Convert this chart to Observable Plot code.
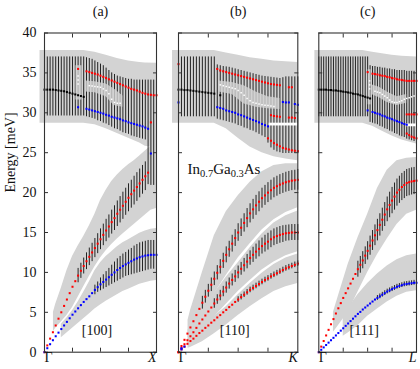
<!DOCTYPE html>
<html><head><meta charset="utf-8">
<script src="https://cdn.jsdelivr.net/npm/d3@7"></script>
<script src="https://cdn.jsdelivr.net/npm/@observablehq/plot@0.6"></script>
<style>
body{margin:0;background:#fff;}
#wrap{position:relative;width:420px;height:369px;overflow:hidden;}
#wrap svg{position:absolute;top:0;overflow:visible;}
</style></head><body><div id="wrap"></div>
<script>
// ---------- shared ----------
const yTicks = [0, 5, 10, 15, 20, 25, 30, 35, 40];
const xInnerTicks = [0.25, 0.5, 0.75];
const titles = ["(a)", "(b)", "(c)"];
const dirLabels = ["[100]", "[110]", "[111]"];
const endLabels = ["X", "K", "L"];
const startLabel = "Γ";
const yLabel = "Energy [meV]";
const chemLabel = "In0.7Ga0.3As";
const chemParts = [["In", 0], ["0.7", 1], ["Ga", 0], ["0.3", 1], ["As", 0]];
const Q = d3.range(41).map(i => i / 40); // sampling grid along the path (step 0.025)

// ---------- panel (a) [100] ----------
const aBandQ = [-0.04, 0.35, 0.45, 0.55, 0.65, 0.75, 0.85, 0.9, 1.0];
const aBandTop = [37.8, 37.8, 37.6, 37.2, 36.8, 36.5, 36.3, 36.25, 36.2];
const aBandBot = [28.7, 28.7, 28.5, 28.0, 27.4, 26.8, 26.2, 25.8, 25.6];
const aOptTop = [37.0,37.0,37.0,37.0,37.0,37.0,37.0,37.0,37.0,37.0,37.0,37.0,37.0,37.0,37.0,
  36.9,36.8,36.7,36.5,36.3,36.1,35.9,35.6,35.3,35.0,34.8,34.6,34.5,34.4,34.3,34.2,
  34.2,34.1,34.1,34.1,34.1,34.1,34.1,34.1,34.1,34.1];
const aOptBot = [29.6,29.6,29.6,29.6,29.6,29.6,29.6,29.6,29.6,29.6,29.6,29.6,29.6,29.6,29.6,
  29.5,29.4,29.3,29.2,29.0,28.9,28.7,28.6,28.4,28.2,28.0,27.9,27.7,27.5,27.4,27.3,
  27.1,27.0,26.9,26.8,26.7,26.6,21.0,20.9,20.9,20.9];
const aGapQ = [0.37, 0.45, 0.55, 0.62, 0.7];
const aGapTop = [34.0, 33.9, 33.6, 33.0, 32.1];
const aGapBot = [32.6, 32.5, 32.0, 30.9, 30.7];
const aVGapQ = [0.28, 0.335];
const aVGapTop = [35.9, 35.9];
const aVGapBot = [31.6, 31.6];
const aWhiteQ = [0.3, 0.3, 0.3, 0.4, 0.425, 0.45, 0.475, 0.5, 0.525, 0.55, 0.575, 0.6, 0.625, 0.65, 0.675];
const aWhiteE = [34.6, 34.1, 33.6, 33.4, 33.35, 33.3, 33.25, 33.2, 33.0, 32.8, 32.4, 31.7, 31.3, 31.2, 31.2];
const aLAQ = [0.08, 0.1, 0.15, 0.2, 0.25, 0.3, 0.35, 0.4, 0.45, 0.5, 0.55, 0.6, 0.65, 0.7, 0.75, 0.8, 0.85, 0.9, 0.95, 1.0];
const aLATop = [5.0, 6.0, 8.0, 10.2, 12.0, 13.3, 14.5, 15.8, 17.3, 19.0, 20.3, 21.4, 22.2, 22.9, 23.5, 24.0, 24.6, 25.2, 25.8, 26.1];
const aLABot = [2.6, 3.0, 3.8, 4.6, 5.6, 6.9, 8.2, 9.5, 10.7, 11.8, 12.7, 13.5, 14.2, 14.8, 15.4, 16.0, 16.6, 17.2, 17.8, 18.0];
const aTAQ = [0.15, 0.2, 0.25, 0.3, 0.35, 0.4, 0.45, 0.5, 0.55, 0.6, 0.65, 0.7, 0.75, 0.8, 0.85, 0.9, 0.95, 1.0];
const aTATop = [3.5, 4.3, 5.2, 6.3, 7.5, 8.8, 10.2, 11.2, 12.0, 12.6, 13.2, 13.7, 14.1, 14.5, 14.9, 15.2, 15.4, 15.5];
const aTABot = [1.8, 2.4, 3.0, 3.6, 4.2, 4.8, 5.4, 5.9, 6.4, 6.8, 7.2, 7.6, 7.9, 8.2, 8.5, 8.7, 8.9, 9.0];
const aLARed = [0,0.85,1.7,2.5,3.35,4.2,5.0,5.8,6.6,7.4,8.2,8.9,9.6,10.2,10.8,11.4,11.95,12.5,13.05,13.6,
  14.15,14.7,15.25,15.75,16.3,16.8,17.35,17.85,18.35,18.85,19.35,19.8,20.25,20.7,21.15,21.6,22.05,22.5];
const aTABlue = [0,0.5,1.0,1.5,2.0,2.45,2.9,3.35,3.8,4.25,4.7,5.1,5.5,5.9,6.3,6.65,7.0,7.4,7.8,8.15,
  8.5,8.8,9.1,9.4,9.7,10.0,10.3,10.55,10.8,11.0,11.2,11.4,11.6,11.75,11.9,12.0,12.1,12.15,12.2,12.2,12.2];
const aLABarLo = [8.7,9.25,9.8,10.35,10.85,11.35,11.85,12.35,12.85,13.35,13.85,14.3,14.8,15.25,15.75,16.2,16.65,17.15,17.6,18.05,18.45,18.9,19.35,19.8,20.25];
const aLABarHi = [10.5,11.15,11.8,12.45,13.05,13.65,14.25,14.85,15.45,16.05,16.65,17.2,17.8,18.35,18.95,19.5,20.05,20.55,21.1,21.55,22.05,22.5,22.95,23.4,23.85];
const aTABarLo = [7.2,7.5,7.7,7.9,8.1,8.3,8.5,8.7,8.9,9.1,9.3,9.5,9.6,9.7,9.8,9.9,10.0,10.1,10.2,10.3,10.4,10.4,10.4];
const aTABarHi = [8.4,8.8,9.3,9.7,10.1,10.5,10.9,11.3,11.7,12.0,12.3,12.5,12.8,13.0,13.3,13.5,13.7,13.8,13.9,14.0,14.0,14.0,14.0];
const aBlackOpt = [32.9,32.9,32.9,32.9,32.85,32.8,32.75,32.7,32.6,32.5,32.4,32.3,32.2,32.1,32.0];
const aRedOpt = [35.2,35.1,35.0,34.9,34.8,34.65,34.5,34.35,34.2,34.05,33.9,33.75,33.6,33.45,33.3,33.15,33.0,32.9,32.8,32.65,32.5,32.4,32.3,32.25,32.2,32.2];
const aBlueOpt = [30.5,30.4,30.3,30.2,30.1,30.0,29.9,29.75,29.65,29.5,29.4,29.3,29.2,29.05,28.95,28.8,28.7,28.6,28.5,28.4,28.3,28.15,28.0];
const aRedXQ = [0.3, 0.95];
const aRedXE = [35.5, 28.8];
const aBlueXQ = [0.3, 0.95];
const aBlueXE = [30.7, 24.9];

// ---------- panel (b) [110] ----------
const bBandQ = [-0.05, 0.3, 0.4, 0.5, 0.6, 0.7, 0.8, 0.9, 1.0];
const bBandTop = [37.8, 37.8, 37.5, 37.2, 36.9, 36.7, 36.5, 36.4, 36.3];
const bBandBot = [28.7, 28.7, 28.0, 26.8, 25.7, 25.0, 24.5, 24.2, 24.0];
const bOptTop = [37.0,37.0,37.0,37.0,37.0,37.0,37.0,37.0,37.0,37.0,37.0,37.0,37.0,
  36.0,35.9,35.8,35.75,35.7,35.6,35.5,35.4,35.3,35.2,35.1,35.0,34.9,34.8,34.7,34.6,
  34.55,34.5,34.45,34.4,34.35,34.3,34.4,34.5,34.5,34.5,34.5,34.5];
const bOptBot = [29.5,29.5,29.5,29.5,29.5,29.5,29.5,29.5,29.5,29.5,29.5,29.5,29.5,
  29.2,29.1,29.0,28.9,28.8,28.7,28.6,28.4,28.3,28.1,28.0,27.8,27.7,27.5,27.3,27.1,
  26.9,26.2,25.6,25.3,25.1,25.0,24.9,24.9,24.9,24.9,24.9,24.9];
const bGapQ = [0.34, 0.45, 0.55, 0.65, 0.75, 0.85];
const bGapTop = [34.0, 33.8, 33.4, 32.6, 32.0, 31.8];
const bGapBot = [32.6, 32.3, 31.1, 30.7, 30.5, 30.4];
const bStripQ = [0.76, 1.0];
const bStripLo = [28.35, 28.35];
const bStripHi = [28.7, 28.7];
const bWhiteQ = [0.35,0.375,0.4,0.425,0.45,0.475,0.5,0.525,0.55,0.575,0.6,0.625,0.65,0.675,0.7,0.725,0.75,0.775,0.8];
const bWhiteE = [33.5,33.4,33.3,33.2,33.1,33.0,32.8,32.5,32.2,31.8,31.5,31.3,31.2,31.1,31.0,30.95,30.9,30.85,30.8];
const bAcQ = [0.08, 0.1, 0.2, 0.3, 0.4, 0.5, 0.6, 0.7, 0.8, 0.9, 1.0];
const bLATop = [4.0, 5.2, 10.0, 14.6, 17.6, 19.6, 21.3, 22.6, 23.4, 23.6, 23.6];
const bLABot = [1.8, 2.2, 4.6, 7.3, 9.6, 11.8, 13.6, 15.3, 16.6, 17.5, 18.1];
const bTA2Top = [2.8, 3.2, 4.8, 7.4, 9.4, 11.2, 13.1, 14.8, 16.2, 17.1, 17.7];
const bTA2Bot = [1.0, 1.3, 2.8, 4.4, 6.0, 7.6, 9.0, 10.3, 11.3, 12.1, 12.6];
const bTA1Top = [1.7, 2.0, 3.3, 4.5, 5.7, 7.2, 8.6, 9.9, 11.0, 11.8, 12.3];
const bTA1Bot = [0.5, 0.6, 1.3, 2.3, 3.4, 4.6, 5.7, 6.7, 7.6, 8.2, 8.6];
const bLA = [0,0.78,1.55,2.33,3.1,3.88,4.65,5.43,6.2,6.95,7.7,8.45,9.2,9.95,10.7,11.45,12.2,12.9,13.6,14.3,
  15.0,15.6,16.2,16.8,17.4,17.9,18.4,18.85,19.3,19.65,20.0,20.3,20.6,20.8,21.0,21.15,21.3,21.4,21.5,21.55,21.6];
const bTA2 = [0,0.5,1.0,1.5,2.0,2.5,3.05,3.6,4.1,4.6,5.1,5.6,6.1,6.6,7.1,7.6,8.1,8.6,9.05,9.5,
  10.0,10.45,10.9,11.35,11.8,12.2,12.6,12.95,13.3,13.6,13.85,14.15,14.4,14.55,14.7,14.8,14.9,14.95,15.0,15.0,15.0];
const bTA1 = [0,0.35,0.7,1.05,1.4,1.7,2.05,2.4,2.7,3.05,3.35,3.7,4.0,4.35,4.65,5.0,5.3,5.65,5.95,6.3,
  6.6,6.9,7.2,7.5,7.8,8.05,8.3,8.55,8.8,9.05,9.25,9.5,9.7,9.9,10.1,10.3,10.5,10.65,10.8,10.95,11.1];
const bLABarLo = [5.4,6.15,6.9,7.6,8.35,9.05,9.8,10.5,11.2,11.9,12.55,13.25,13.9,14.5,15.05,15.6,16.2,16.65,17.15,17.6,18.05,18.4,18.75,19.05,19.35,19.55,19.75,19.9,20.05,20.15,20.25,20.3,20.3];
const bLABarHi = [7.0,7.75,8.5,9.3,10.05,10.85,11.6,12.4,13.2,13.9,14.65,15.35,16.1,16.7,17.35,18.0,18.6,19.15,19.65,20.1,20.55,20.9,21.25,21.55,21.85,22.05,22.25,22.4,22.55,22.65,22.75,22.8,22.9];
const bTA2BarLo = [5.5,6.0,6.45,6.95,7.4,7.9,8.3,8.75,9.2,9.65,10.05,10.45,10.9,11.25,11.65,11.95,12.3,12.55,12.8,13.1,13.35,13.5,13.65,13.75,13.9,13.95,14.0,14.0,14.0];
const bTA2BarHi = [6.7,7.2,7.75,8.25,8.8,9.3,9.8,10.25,10.8,11.25,11.75,12.25,12.7,13.15,13.55,13.95,14.3,14.65,14.9,15.2,15.45,15.6,15.75,15.85,15.9,15.95,16.0,16.0,16.0];
const bTA1BarLo = [6.25,6.55,6.85,7.15,7.45,7.7,7.95,8.2,8.45,8.7,8.9,9.15,9.35,9.55,9.75,9.95,10.15,10.3,10.45,10.6,10.75];
const bTA1BarHi = [6.95,7.25,7.55,7.85,8.15,8.4,8.65,8.9,9.15,9.4,9.6,9.85,10.05,10.25,10.45,10.65,10.85,11.0,11.15,11.3,11.45];
const bBlackOpt = [32.9,32.9,32.85,32.85,32.8,32.75,32.7,32.65,32.6,32.55,32.5,32.45,32.4];
const bBlackXQ = [0.35];
const bBlackXE = [32.2];
const bRedOpt = [35.5,35.3,35.2,35.1,35.0,34.9,34.8,34.7,34.6,34.5,34.4,34.3,34.2,34.1,34.0,33.9,33.8,33.7,33.6,33.55,33.5,33.45];
const bBlueOpt = [30.7,30.6,30.5,30.3,30.2,30.1,30.0,29.8,29.7,29.55,29.4,29.25,29.1,28.95,28.8,28.6,28.45,28.3];
const bRedLow = [26.8,26.5,26.2,26.0,25.8,25.6,25.5,25.4,25.3,25.25,25.2];
const bRedXQ = [0, 0.925, 0.95, 0.775, 0.8, 0.825, 0.85, 0.925, 0.95, 0.975];
const bRedXE = [36.1, 33.2, 33.2, 29.7, 29.6, 29.55, 29.5, 29.4, 29.4, 29.35];
const bBlueXQ = [0, 0.875, 0.9, 0.925, 0.975, 1.0, 0.025, 0.05, 0.025];
const bBlueXE = [31.3, 31.35, 31.3, 31.3, 31.1, 31.0, 0.35, 0.7, 0.5];

// ---------- panel (c) [111] ----------
const cBandQ = [-0.04, 0.45, 0.55, 0.65, 0.75, 0.85, 1.0];
const cBandTop = [37.8, 37.8, 37.6, 37.4, 37.2, 37.1, 37.0];
const cBandBot = [28.7, 28.7, 28.3, 27.7, 27.1, 26.6, 26.1];
const cOptTop = [37.0,37.0,37.0,37.0,37.0,37.0,37.0,37.0,37.0,37.0,37.0,37.0,37.0,37.0,37.0,37.0,37.0,37.0,37.0,37.0,37.0,
  35.9,35.8,35.8,35.7,35.7,35.6,35.6,35.5,35.5,35.4,35.4,35.3,35.3,35.3,35.3,35.2,35.2,35.2,35.2,35.2];
const cOptBot = [29.5,29.5,29.5,29.5,29.5,29.5,29.5,29.5,29.5,29.5,29.5,29.5,29.5,29.5,29.5,29.5,29.5,29.5,29.5,29.5,29.5,
  28.8,28.7,28.6,28.5,28.3,28.2,28.0,27.9,27.7,27.6,27.4,27.3,27.1,27.0,26.9,26.7,26.6,26.5,26.4,26.4];
const cGapQ = [0.54, 0.62, 0.7, 0.8, 0.9];
const cGapTop = [33.5, 33.2, 32.6, 32.0, 32.3];
const cGapBot = [32.3, 31.9, 31.3, 30.9, 31.2];
const cVGapQ = [0.505, 0.535];
const cVGapTop = [35.4, 35.4];
const cVGapBot = [31.0, 31.0];
const cStripQ = [0.9, 1.0];
const cStripLo = [28.25, 28.25];
const cStripHi = [28.6, 28.6];
const cWhiteQ = [0.52,0.52,0.52,0.575,0.6,0.625,0.65,0.675,0.7,0.725,0.75,0.775,0.8,0.825,0.85,0.875,0.9,0.925,0.95,0.975];
const cWhiteE = [34.0,33.5,33.0,32.7,32.6,32.5,32.3,32.1,31.9,31.6,31.4,31.3,31.3,31.4,31.5,31.7,31.8,31.9,32.0,32.1];
const cLAQ = [0.15, 0.2, 0.3, 0.4, 0.5, 0.6, 0.7, 0.8, 0.9, 1.0];
const cLATop = [5.0, 7.0, 11.0, 14.3, 17.3, 20.5, 22.8, 24.0, 24.3, 24.4];
const cLABot = [2.5, 3.3, 5.0, 7.5, 10.0, 12.2, 14.2, 16.0, 17.3, 17.8];
const cTAQ = [0.25, 0.3, 0.4, 0.5, 0.6, 0.7, 0.8, 0.9, 1.0];
const cTATop = [4.6, 5.5, 7.2, 8.6, 9.8, 10.8, 11.6, 12.1, 12.3];
const cTABot = [2.0, 2.4, 3.3, 4.5, 5.4, 6.3, 7.0, 7.5, 7.7];
const cLA = [0,0.7,1.4,2.1,2.8,3.5,4.15,4.85,5.5,6.15,6.8,7.4,8.0,8.6,9.2,9.8,10.4,10.95,11.5,12.1,
  12.7,13.35,14.0,14.65,15.3,15.95,16.6,17.25,17.9,18.45,19.0,19.5,20.0,20.35,20.7,20.95,21.2,21.3,21.4,21.45,21.5];
const cTA = [0,0.3,0.6,0.9,1.2,1.5,1.8,2.1,2.4,2.7,3.0,3.3,3.6,3.9,4.2,4.5,4.8,5.05,5.35,5.6,
  5.85,6.1,6.35,6.6,6.8,7.0,7.2,7.4,7.6,7.75,7.9,8.05,8.2,8.3,8.4,8.5,8.55,8.6,8.65,8.7,8.7];
const cLABarLo = [9.4,9.9,10.45,11.0,11.55,12.15,12.75,13.35,13.95,14.55,15.15,15.75,16.35,16.85,17.35,17.8,18.3,18.65,19.0,19.25,19.5,19.6,19.7,19.75,19.8];
const cLABarHi = [11.4,12.0,12.6,13.2,13.85,14.55,15.25,15.95,16.65,17.35,18.05,18.75,19.45,20.05,20.65,21.2,21.7,22.05,22.4,22.65,22.9,23.0,23.1,23.15,23.2];
const cTABarLo = [6.5,6.7,6.9,7.1,7.3,7.45,7.6,7.75,7.9,8.0,8.1,8.2,8.25,8.3,8.35,8.4,8.4];
const cTABarHi = [7.1,7.3,7.5,7.7,7.9,8.05,8.2,8.35,8.5,8.6,8.7,8.8,8.85,8.9,8.95,9.0,9.0];
const cBlackOpt = [32.9,32.9,32.9,32.9,32.85,32.85,32.8,32.8,32.75,32.7,32.65,32.6,32.55,32.5,32.4,32.35,32.3,32.2,32.1,32.0,31.9,31.8];
const cRedOpt = [34.9,34.85,34.8,34.7,34.65,34.6,34.5,34.45,34.35,34.3,34.2,34.15,34.1,34.05,34.0,34.0,34.0,34.0,34.0];
const cBlueOpt = [30.1,30.0,29.9,29.8,29.65,29.55,29.4,29.3,29.2,29.05,28.95,28.85,28.7,28.6,28.5];
const cRedXQ = [0.5, 0.9, 0.925, 0.95, 0.975, 1.0, 0.9, 0.925, 0.95, 0.975, 1.0];
const cRedXE = [35.1, 29.8, 29.8, 29.8, 29.8, 29.8, 27.4, 27.2, 27.0, 26.9, 26.8];
const cBlueXQ = [0.5];
const cBlueXE = [30.3];

// ---------- helpers to build tables from the arrays ----------
function pts(start, vals) { return vals.map((e, i) => ({q: Q[start + i], e})).filter(d => d.q !== undefined); }
function ptsQ(qs, vals) { const n = Math.min(qs.length, vals.length); return d3.range(n).map(i => ({q: qs[i], e: vals[i]})); }
function rng(start, lo, hi) { const n = Math.min(lo.length, hi.length); return d3.range(n).map(i => ({q: Q[start + i], lo: lo[i], hi: hi[i]})).filter(d => d.q !== undefined); }
function rngQ(qs, lo, hi) { const n = Math.min(qs.length, lo.length, hi.length); return d3.range(n).map(i => ({q: qs[i], lo: lo[i], hi: hi[i]})); }

const GRAY = "#d3d3d3";
const FONT = "'Liberation Serif', 'DejaVu Serif', serif";

function band(data, fill = GRAY, extra = {}) { return Plot.areaY(data, {x: "q", y1: "lo", y2: "hi", fill, ...extra}); }
function bars(data, w = 1) { return Plot.ruleX(data, {x: "q", y1: "lo", y2: "hi", stroke: "#111", strokeWidth: w, strokeOpacity: 0.9}); }
function dots(data, fill, r = 1.15) { return Plot.dot(data, {x: "q", y: "e", fill, r, symbol: "square"}); }

function makePanel(cfg) {
  const marks = [
    ...cfg.bands.map(d => band(d)),
    ...cfg.bars.map(d => bars(d)),
    ...cfg.gaps.map(d => band(d, GRAY, {fillOpacity: 0.8})),
    ...cfg.strips.map(d => band(d, "#fff")),
    dots(cfg.white, "#fff", 0.85),
    ...cfg.black.map(d => dots(d, "#000")),
    ...cfg.red.map(d => dots(d, "#ff0000")),
    ...cfg.blue.map(d => dots(d, "#0000ff")),
    Plot.frame({stroke: "#333", strokeWidth: 1.1}),
    Plot.axisY({anchor: "left", ticks: yTicks, tickSize: -4, tickFormat: () => "", label: null, stroke: "#333"}),
    Plot.axisY({anchor: "right", ticks: yTicks, tickSize: -4, tickFormat: () => "", label: null, stroke: "#333"}),
    Plot.axisX({anchor: "top", ticks: xInnerTicks, tickSize: -4, tickFormat: () => "", label: null, stroke: "#333"}),
    Plot.axisX({anchor: "bottom", ticks: xInnerTicks, tickSize: -4, tickFormat: () => "", label: null, stroke: "#333"}),
    Plot.text([cfg.title], {frameAnchor: "top", dy: -27, fontSize: 14}),
    Plot.text([cfg.dir], {frameAnchor: "bottom", dy: -17, dx: -3.5, fontSize: 14}),
    Plot.text([startLabel], {frameAnchor: "bottom-left", dy: 10, fontSize: 14}),
    Plot.text([cfg.end], {frameAnchor: "bottom-right", dy: 10, fontSize: 14, fontStyle: "italic"}),
    ...(cfg.extra || [])
  ];
  const svg = Plot.plot({
    width: cfg.width, height: 369,
    marginLeft: cfg.ml, marginRight: cfg.mr, marginTop: 32.5, marginBottom: 17.3,
    x: {domain: [0, 1]},
    y: {domain: [0, 40]},
    style: {fontFamily: FONT, fontSize: "14px", background: "transparent", color: "#111", overflow: "visible"},
    marks
  });
  svg.style.left = cfg.left + "px";
  return svg;
}

const wrap = document.getElementById("wrap");

const svgA = makePanel({
  left: 0, width: 162, ml: 44, mr: 6, title: titles[0], dir: dirLabels[0], end: endLabels[0],
  bands: [rngQ(aBandQ, aBandBot, aBandTop), rngQ(aLAQ, aLABot, aLATop), rngQ(aTAQ, aTABot, aTATop)],
  bars: [rng(0, aOptBot, aOptTop), rng(12, aLABarLo, aLABarHi), rng(18, aTABarLo, aTABarHi)],
  gaps: [rngQ(aGapQ, aGapBot, aGapTop), rngQ(aVGapQ, aVGapBot, aVGapTop)],
  strips: [],
  white: ptsQ(aWhiteQ, aWhiteE),
  black: [pts(0, aBlackOpt)],
  red: [pts(0, aLARed), pts(15, aRedOpt), ptsQ(aRedXQ, aRedXE)],
  blue: [pts(0, aTABlue), pts(15, aBlueOpt), ptsQ(aBlueXQ, aBlueXE)],
  extra: [
    Plot.axisY({anchor: "left", ticks: yTicks, tickSize: 0, tickPadding: 8, label: null, fontSize: 14}),
    Plot.text([yLabel], {frameAnchor: "left", rotate: -90, dx: -34, fontSize: 14})
  ]
});
wrap.appendChild(svgA);

const svgB = makePanel({
  left: 162, width: 140, ml: 16, mr: 4.7, title: titles[1], dir: dirLabels[1], end: endLabels[1],
  bands: [rngQ(bBandQ, bBandBot, bBandTop), rngQ(bAcQ, bLABot, bLATop), rngQ(bAcQ, bTA2Bot, bTA2Top), rngQ(bAcQ, bTA1Bot, bTA1Top)],
  bars: [rng(0, bOptBot, bOptTop), rng(8, bLABarLo, bLABarHi), rng(12, bTA2BarLo, bTA2BarHi), rng(20, bTA1BarLo, bTA1BarHi)],
  gaps: [rngQ(bGapQ, bGapBot, bGapTop)],
  strips: [rngQ(bStripQ, bStripLo, bStripHi)],
  white: ptsQ(bWhiteQ, bWhiteE),
  black: [pts(0, bBlackOpt), ptsQ(bBlackXQ, bBlackXE)],
  red: [pts(0, bLA), pts(0, bTA2), pts(0, bTA1), pts(13, bRedOpt), pts(30, bRedLow), ptsQ(bRedXQ, bRedXE)],
  blue: [pts(13, bBlueOpt), ptsQ(bBlueXQ, bBlueXE)],
  extra: [
    Plot.text([chemLabel], {frameAnchor: "top-left", dx: 9, dy: 130, textAnchor: "start", fontSize: 15})
  ]
});
wrap.appendChild(svgB);
d3.select(svgB).selectAll("text").filter(function () { return this.textContent === chemLabel; }).each(function () {
  const t = d3.select(this);
  t.text(null);
  let prevSub = 0;
  chemParts.forEach(([s, sub]) => {
    const span = t.append("tspan").text(s);
    if (sub) span.attr("font-size", "10.5px");
    if (sub !== prevSub) span.attr("dy", sub ? 3.5 : -3.5);
    prevSub = sub;
  });
});

const svgC = makePanel({
  left: 302, width: 118, ml: 16.3, mr: 4, title: titles[2], dir: dirLabels[2], end: endLabels[2],
  bands: [rngQ(cBandQ, cBandBot, cBandTop), rngQ(cLAQ, cLABot, cLATop), rngQ(cTAQ, cTABot, cTATop)],
  bars: [rng(0, cOptBot, cOptTop), rng(16, cLABarLo, cLABarHi), rng(24, cTABarLo, cTABarHi)],
  gaps: [rngQ(cGapQ, cGapBot, cGapTop), rngQ(cVGapQ, cVGapBot, cVGapTop)],
  strips: [rngQ(cStripQ, cStripLo, cStripHi)],
  white: ptsQ(cWhiteQ, cWhiteE),
  black: [pts(0, cBlackOpt)],
  red: [pts(0, cLA), pts(22, cRedOpt), ptsQ(cRedXQ, cRedXE)],
  blue: [pts(0, cTA), pts(22, cBlueOpt), ptsQ(cBlueXQ, cBlueXE)]
});
wrap.appendChild(svgC);
</script>
</body></html>
